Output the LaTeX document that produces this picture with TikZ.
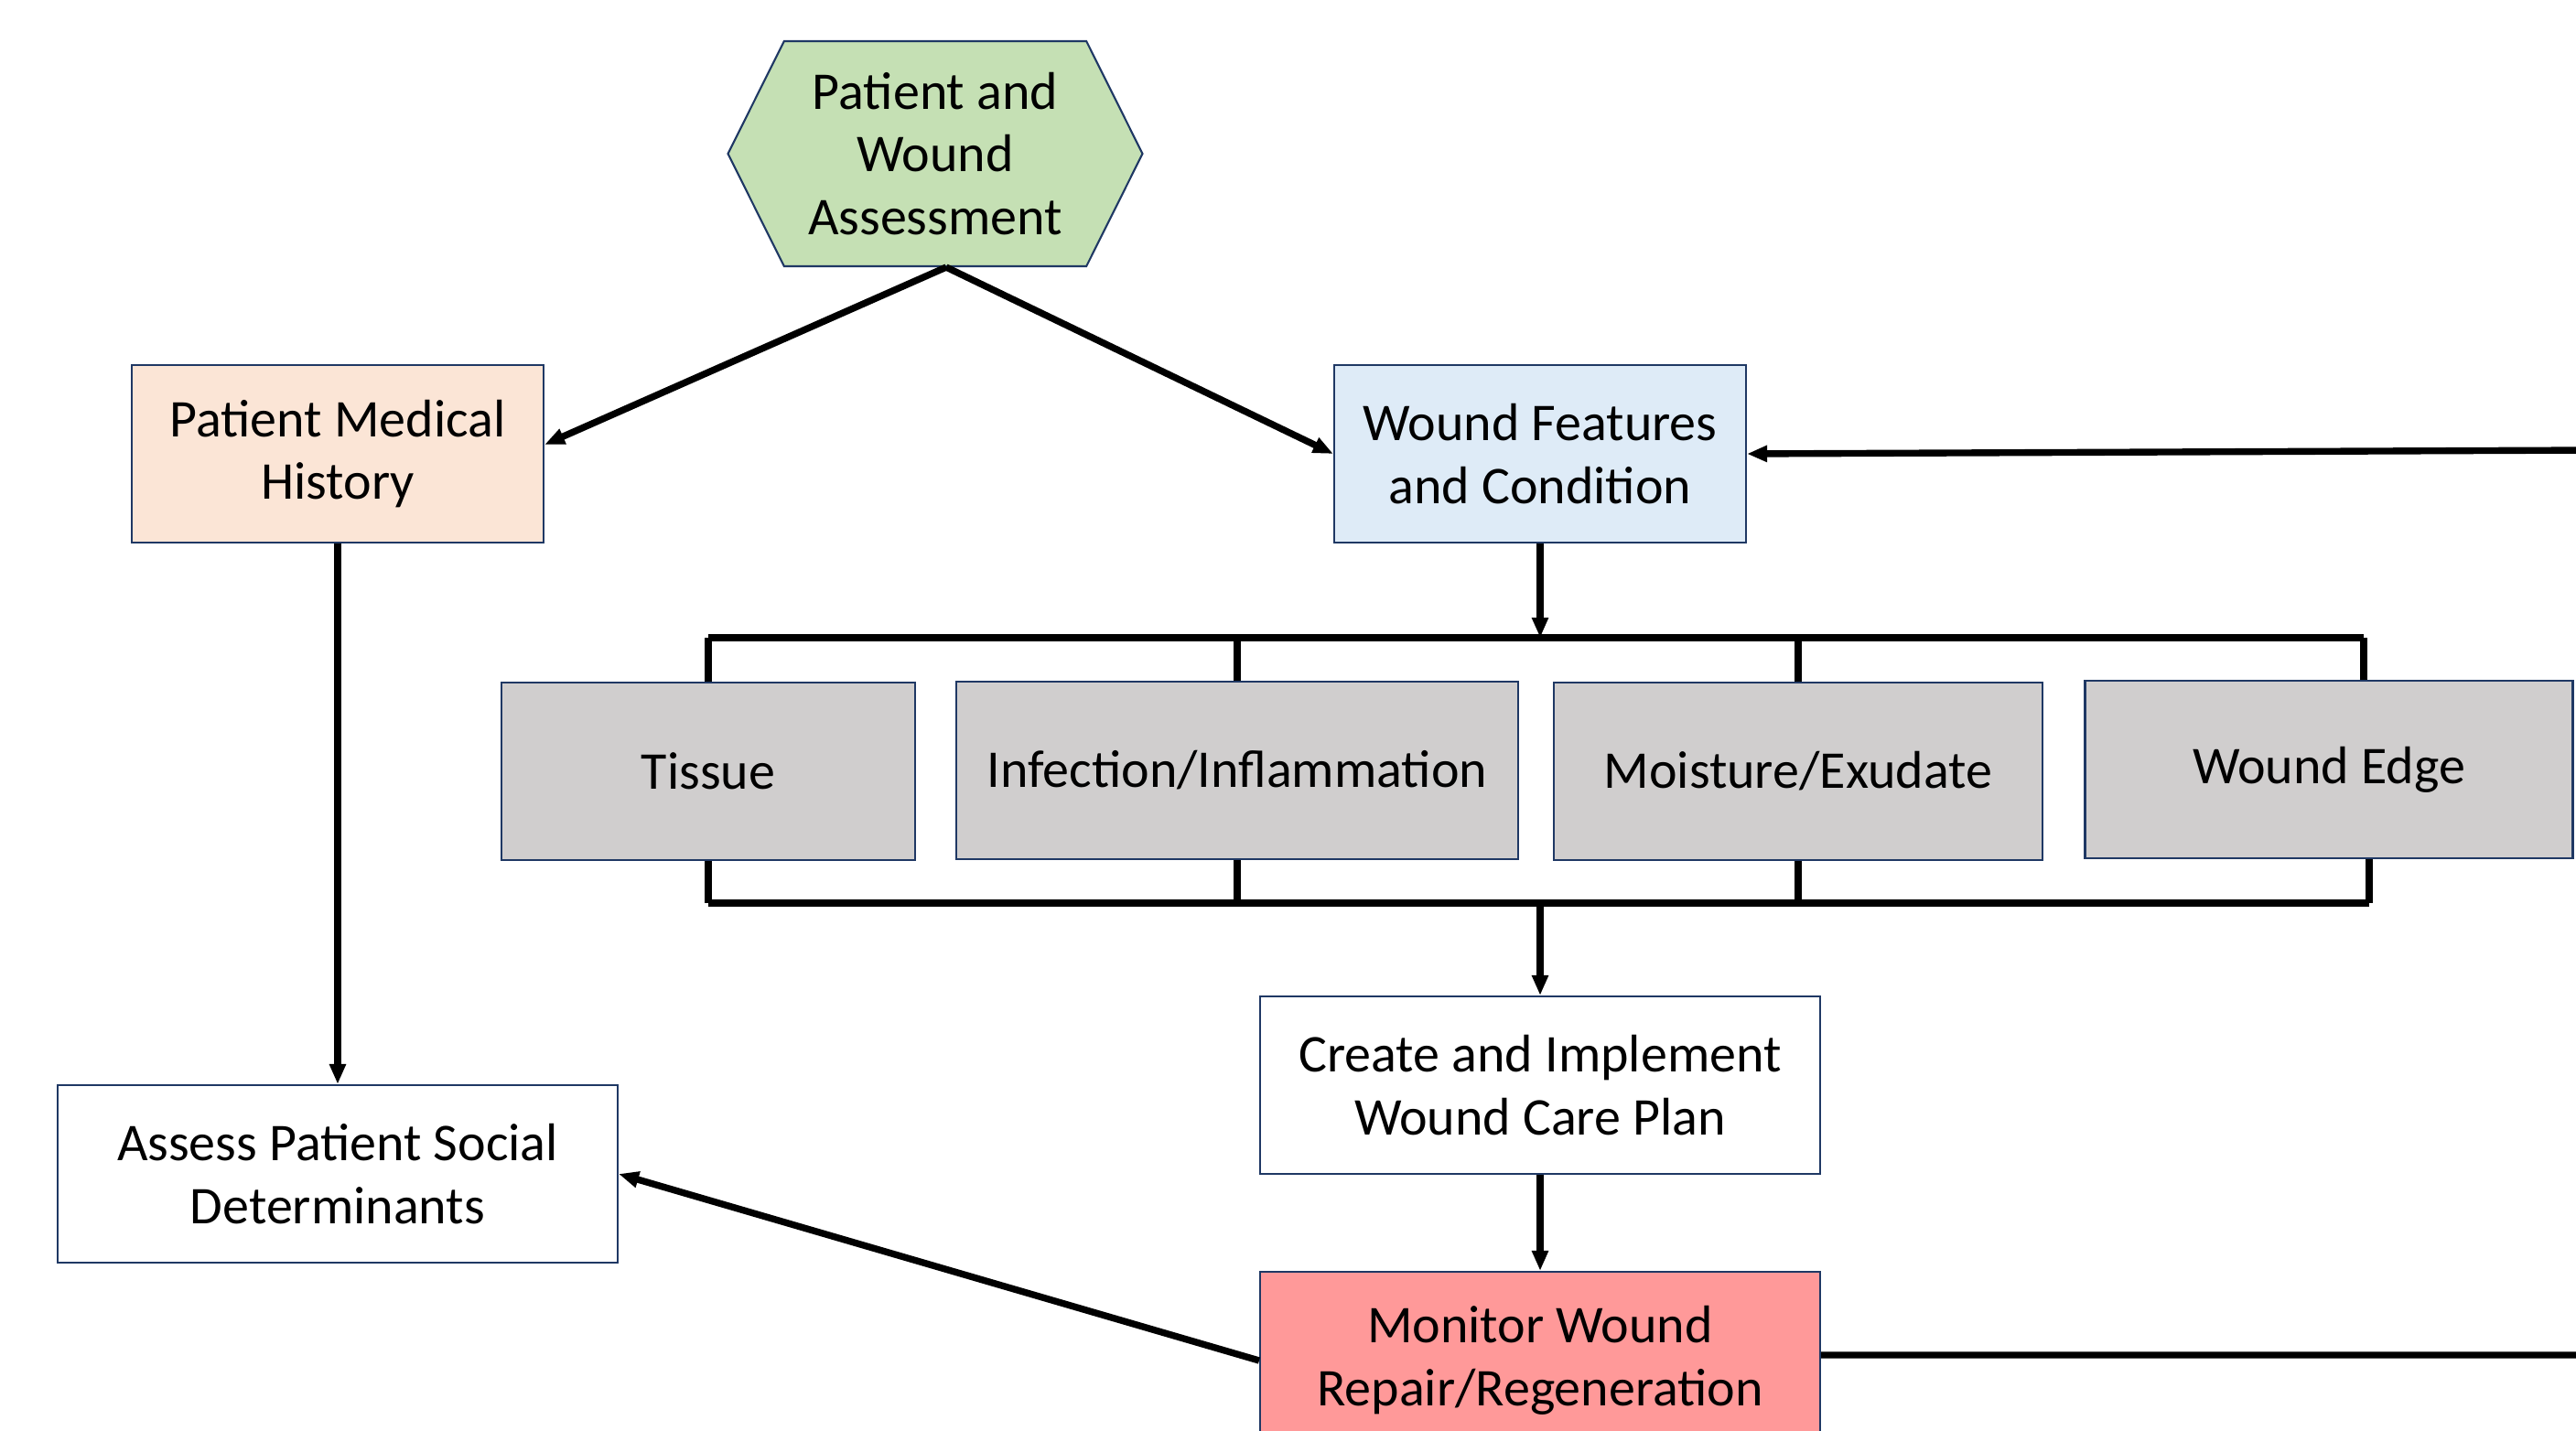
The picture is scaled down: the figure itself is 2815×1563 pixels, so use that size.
\documentclass[tikz,border=0pt]{standalone}
\usepackage{fontspec}
\setmainfont{Carlito}
\usepackage{xcolor}
\usepackage{tikz}
\usetikzlibrary{positioning,arrows.meta,shapes.symbols}

\definecolor{navy}{HTML}{1F3864}
\definecolor{hexgreen}{HTML}{C5E0B4}
\definecolor{peach}{HTML}{FBE5D6}
\definecolor{paleblue}{HTML}{DEEBF7}
\definecolor{boxgrey}{HTML}{D0CECE}
\definecolor{salmon}{HTML}{FF9999}

\begin{document}
\begin{tikzpicture}[x=0.1mm,y=-0.1mm,
  every node/.style={font=\fontsize{16.5}{19.6}\selectfont,align=center},
  box/.style={draw=navy,line width=0.6pt,minimum width=45mm,minimum height=19.4mm,inner sep=0pt},
  hexbox/.style={shape=signal,signal to=east and west,signal pointer angle=127,
    draw=navy,line width=0.6pt,fill=hexgreen,minimum width=45.3mm,minimum height=24.6mm,inner sep=0pt},
  line/.style={line width=2.1pt},
  arr/.style={line width=2.1pt,-{Triangle[length=2.2mm,width=1.7mm]}}]

\useasboundingbox (0,0) rectangle (2815,1563);
\clip (0,0) rectangle (2815,1563);

\node(ASSESS)  [hexbox] at (1022,168) {Patient and\\Wound\\Assessment};
\node(HIST)    [box,fill=peach] at (369,496) {Patient Medical\\History};
\node(FEAT)    [box,fill=paleblue] at (1683,496) {Wound Features\\and Condition};
\node(TISSUE)  [box,fill=boxgrey,minimum width=45.2mm] at (774,843) {Tissue};
\node(INFECT)  [box,fill=boxgrey,minimum width=61.4mm] at (1352,842) {Infection/Inflammation};
\node(MOIST)   [box,fill=boxgrey,minimum width=53.4mm] at (1965,843) {Moisture/Exudate};
\node(EDGE)    [box,fill=boxgrey,minimum width=53.3mm] at (2545,841) {Wound Edge};
\node(PLAN)    [box,fill=white,minimum width=61.2mm] at (1683,1186) {Create and Implement\\Wound Care Plan};
\node(MONITOR) [box,fill=salmon,minimum width=61.2mm] at (1683,1487) {Monitor Wound\\Repair/Regeneration};
\node(SOCIAL)  [box,fill=white,minimum width=61.2mm] at (369,1283) {Assess Patient Social\\Determinants};

\coordinate(SPLIT) at (1683,697);
\coordinate(JOIN)  at (1683,987);
\coordinate(BACK)  at (2830,492);
\coordinate(OUT)   at (2830,1481);

\draw[arr]  ([xshift=1.2mm]ASSESS.south) -- ([yshift=1mm]HIST.east);
\draw[arr]  ([xshift=1.2mm]ASSESS.south) -- (FEAT.west);
\draw[arr]  (HIST)    -- (SOCIAL);
\draw[arr]  (FEAT)    -- (SPLIT);
\draw[line] (TISSUE.north |- SPLIT) -- ([xshift=3.8mm]EDGE.north |- SPLIT);
\draw[line] (TISSUE.south |- JOIN)  -- ([xshift=4.4mm]EDGE.south |- JOIN);
\foreach \n in {TISSUE,INFECT,MOIST}{
  \draw[line] (\n.north) -- (\n.north |- SPLIT);
  \draw[line] (\n.south) -- (\n.south |- JOIN);
}
\draw[line] ([xshift=3.8mm]EDGE.north) -- ([xshift=3.8mm]EDGE.north |- SPLIT);
\draw[line] ([xshift=4.4mm]EDGE.south) -- ([xshift=4.4mm]EDGE.south |- JOIN);
\draw[arr]  (JOIN)    -- (PLAN);
\draw[arr]  (PLAN)    -- (MONITOR);
\draw[arr]  (MONITOR.west) -- (SOCIAL.east);
\draw[line] ([yshift=0.6mm]MONITOR.east) -- (OUT);
\draw[arr]  (BACK)    -- (FEAT.east);
\end{tikzpicture}
\end{document}
